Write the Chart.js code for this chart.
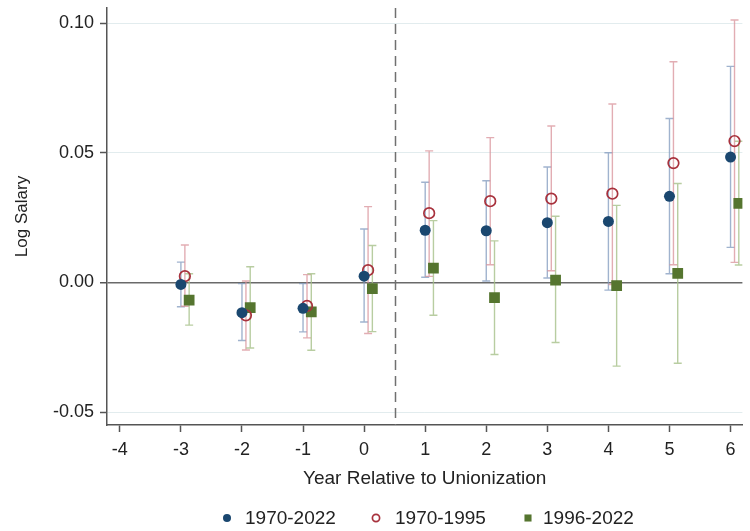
<!DOCTYPE html>
<html>
<head>
<meta charset="utf-8">
<script src="https://cdn.jsdelivr.net/npm/chart.js@4.4.1/dist/chart.umd.min.js"></script>
<style>
  html, body { margin: 0; padding: 0; background: #ffffff; }
  #wrap { width: 750px; height: 531px; }
</style>
</head>
<body>
<div id="wrap"><canvas id="c" width="750" height="531"></canvas></div>
<script>
// Event-study estimates of log salary around unionization, three sample periods.
const years = [-3, -2, -1, 0, 1, 2, 3, 4, 5, 6];
const xTicks = [-4, -3, -2, -1, 0, 1, 2, 3, 4, 5, 6];
const yTicks = [-0.05, 0, 0.05, 0.10];
const seriesLabels = ['1970-2022', '1970-1995', '1996-2022'];

// 1970-2022: point estimates and 95% interval bounds
const est7022 = [-0.0008, -0.0117, -0.0100, 0.0024, 0.0201, 0.0199, 0.0230, 0.0235, 0.0332, 0.0483];
const lo7022  = [-0.0094, -0.0224, -0.0191, -0.0153, 0.0020, 0.0005, 0.0017, -0.0030, 0.0033, 0.0135];
const hi7022  = [0.0078, -0.0005, -0.0005, 0.0206, 0.0386, 0.0392, 0.0445, 0.0500, 0.0632, 0.0833];

// 1970-1995
const est7095 = [0.0024, -0.0127, -0.0091, 0.0047, 0.0267, 0.0313, 0.0323, 0.0342, 0.0460, 0.0545];
const lo7095  = [-0.0092, -0.0261, -0.0214, -0.0197, 0.0023, 0.0068, 0.0045, -0.0008, 0.0068, 0.0077];
const hi7095  = [0.0144, 0.0005, 0.0030, 0.0292, 0.0507, 0.0558, 0.0603, 0.0688, 0.0851, 0.1012];

// 1996-2022
const est9622 = [-0.0068, -0.0097, -0.0114, -0.0024, 0.0055, -0.0059, 0.0009, -0.0013, 0.0035, 0.0305];
const lo9622  = [-0.0165, -0.0253, -0.0262, -0.0190, -0.0127, -0.0278, -0.0232, -0.0323, -0.0312, 0.0067];
const hi9622  = [0.0033, 0.0060, 0.0033, 0.0142, 0.0238, 0.0160, 0.0255, 0.0297, 0.0381, 0.0544];

const FONT = '"Liberation Sans", Arial, Helvetica, sans-serif';
const AXIS = '#555555';
const DODGE = [0, 0.065, 0.135];   // horizontal offset of each series around the year

function points(est, k) {
  return years.map((x, i) => ({ x: x + DODGE[k], y: est[i] }));
}

const datasets = [
  { label: seriesLabels[0], data: points(est7022, 0), lo: lo7022, hi: hi7022,
    pointStyle: 'circle', pointRadius: 5.5, pointHoverRadius: 5.5, borderWidth: 0,
    backgroundColor: '#1a476f', borderColor: '#1a476f', barColor: 'rgba(128,153,190,0.75)',
    legendRadius: 4 },
  { label: seriesLabels[1], data: points(est7095, 1), lo: lo7095, hi: hi7095,
    pointStyle: 'circle', pointRadius: 5.3, pointHoverRadius: 5.3, borderWidth: 1.7,
    backgroundColor: 'rgba(255,255,255,0)', borderColor: '#a8323d', barColor: 'rgba(216,146,153,0.75)',
    legendRadius: 3.6 },
  { label: seriesLabels[2], data: points(est9622, 2), lo: lo9622, hi: hi9622,
    pointStyle: 'rect', pointRadius: 7.6, pointHoverRadius: 7.6, borderWidth: 0,
    backgroundColor: '#55752f', borderColor: '#55752f', barColor: 'rgba(166,192,138,0.8)',
    legendRadius: 5 }
];

// Vertical confidence-interval caps behind the markers
const errorBars = {
  id: 'errorBars',
  beforeDatasetsDraw(chart) {
    const { ctx, chartArea, scales: { x, y } } = chart;
    ctx.save();
    ctx.beginPath();
    ctx.rect(chartArea.left, chartArea.top, chartArea.right - chartArea.left, chartArea.bottom - chartArea.top);
    ctx.clip();
    chart.data.datasets.forEach(ds => {
      ctx.strokeStyle = ds.barColor;
      ctx.lineWidth = 1.4;
      ds.data.forEach((p, i) => {
        const px = x.getPixelForValue(p.x);
        const y0 = y.getPixelForValue(ds.lo[i]);
        const y1 = y.getPixelForValue(ds.hi[i]);
        ctx.beginPath();
        ctx.moveTo(px, y0); ctx.lineTo(px, y1);
        ctx.moveTo(px - 4, y0); ctx.lineTo(px + 4, y0);
        ctx.moveTo(px - 4, y1); ctx.lineTo(px + 4, y1);
        ctx.stroke();
      });
    });
    ctx.restore();
  }
};

// Dashed marker between the last pre-period and the first post-period year
const eventLine = {
  id: 'eventLine',
  beforeDatasetsDraw(chart) {
    const { ctx, chartArea, scales: { x } } = chart;
    const px = Math.round(x.getPixelForValue(0.5)) + 0.5;
    ctx.save();
    ctx.strokeStyle = '#707070';
    ctx.lineWidth = 1.5;
    ctx.setLineDash([10, 6]);
    ctx.beginPath();
    ctx.moveTo(px, chartArea.top);
    ctx.lineTo(px, chartArea.bottom);
    ctx.stroke();
    ctx.restore();
  }
};

// Single-row legend under the axis title
const bottomLegend = {
  id: 'bottomLegend',
  afterDraw(chart) {
    const ctx = chart.ctx;
    const slots = [{ m: 227, t: 245 }, { m: 376, t: 395 }, { m: 528, t: 543 }];
    const cy = 518;
    ctx.save();
    ctx.font = '19px ' + FONT;
    ctx.textBaseline = 'middle';
    ctx.textAlign = 'left';
    chart.data.datasets.forEach((ds, i) => {
      ctx.fillStyle = ds.backgroundColor;
      ctx.strokeStyle = ds.borderColor;
      ctx.lineWidth = ds.borderWidth;
      Chart.helpers.drawPoint(ctx, { pointStyle: ds.pointStyle, radius: ds.legendRadius, borderWidth: ds.borderWidth, rotation: 0 }, slots[i].m, cy);
      ctx.fillStyle = '#222222';
      ctx.fillText(ds.label, slots[i].t, cy + 1);
    });
    ctx.restore();
  }
};

new Chart(document.getElementById('c'), {
  type: 'scatter',
  data: { datasets },
  options: {
    responsive: false,
    devicePixelRatio: 1,
    animation: false,
    layout: { padding: { top: 8, right: 0, bottom: 0, left: 0 } },
    plugins: { legend: { display: false }, tooltip: { enabled: false } },
    scales: {
      x: {
        type: 'linear',
        min: -4.21,
        max: 6.194,
        afterBuildTicks(scale) { scale.ticks = xTicks.map(v => ({ value: v })); },
        afterFit(scale) { scale.height = 106; scale.paddingLeft = 0; scale.paddingRight = 0; },
        ticks: { color: '#222', font: { family: FONT, size: 18 }, padding: 7,
                 callback: v => String(v), maxRotation: 0, autoSkip: false },
        grid: { drawOnChartArea: false, drawTicks: true, tickLength: 7, tickColor: AXIS, tickWidth: 1.5 },
        border: { display: true, color: AXIS, width: 1.5 },
        title: { display: true, text: 'Year Relative to Unionization', color: '#222',
                 font: { family: FONT, size: 19 }, padding: { top: 0, bottom: 41 } }
      },
      y: {
        type: 'linear',
        min: -0.055,
        max: 0.1058,
        afterBuildTicks(scale) { scale.ticks = yTicks.map(v => ({ value: v })); },
        afterFit(scale) { scale.width = 107; scale.paddingTop = 0; scale.paddingBottom = 0; },
        ticks: { color: '#222', font: { family: FONT, size: 18 }, padding: 6,
                 callback: v => Number(v).toFixed(2) },
        grid: {
          color: c => (c.tick && c.tick.value === 0) ? '#6a6a6a' : '#e2ecee',
          lineWidth: c => (c.tick && c.tick.value === 0) ? 1.5 : 1,
          drawTicks: true, tickLength: 7, tickColor: AXIS, tickWidth: 1.5
        },
        border: { display: true, color: AXIS, width: 1.5 },
        title: { display: true, text: 'Log Salary', color: '#222',
                 font: { family: FONT, size: 17 }, padding: { top: 12, bottom: 0 } }
      }
    }
  },
  plugins: [eventLine, errorBars, bottomLegend]
});
</script>
</body>
</html>
